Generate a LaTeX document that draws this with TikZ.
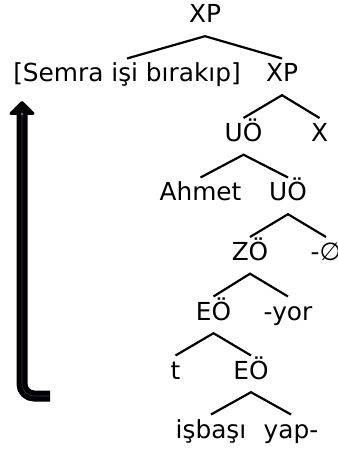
\documentclass[tikz,border=0pt]{standalone}
\usepackage{fontspec}
\setmainfont{DejaVu Sans}
\definecolor{innerline}{RGB}{40,55,85}
\definecolor{tipdot}{RGB}{70,120,200}
\begin{document}
\begin{tikzpicture}[x=1bp,y=-1bp]
\tikzset{
  lbl/.style={anchor=base, inner xsep=0pt, inner ysep=13bp, text height=10.3bp, text depth=0pt,
    font=\fontsize{24.8bp}{28bp}\selectfont},
  arm/.style={line width=2.2bp},
  movearrow/.style={line width=11bp, rounded corners=12bp},
}
\useasboundingbox (0,0) rectangle (337,449);
% labels
\node[lbl] (xp)    at (205,23)    {XP};
\node[lbl] (semra) at (127,82)    {[Semra işi bırakıp]};
\node[lbl] (xp2)   at (282,82)    {XP};
\node[lbl] (uo)    at (243.5,141.5) {UÖ};
\node[lbl] (x)     at (319.5,141.5) {X};
\node[lbl] (ahmet) at (200.5,201) {Ahmet};
\node[lbl] (uo2)   at (288,201)   {UÖ};
\node[lbl] (zo)    at (250,260.5) {ZÖ};
\node[lbl] (nul)   at (326,260.5) {-∅};
\node[lbl] (eo)    at (213.5,320) {EÖ};
\node[lbl] (yor)   at (288,320)   {-yor};
\node[lbl] (t)     at (175.5,379) {t};
\node[lbl] (eo2)   at (251,379)   {EÖ};
\node[lbl] (isb)   at (211,438)   {işbaşı};
\node[lbl] (yap)   at (291,438)   {yap-};
% arms
\draw[arm] (semra.north) -- (xp.south) -- (xp2.north);
\draw[arm] (uo.north) -- (xp2.south) -- (x.north);
\draw[arm] (ahmet.north) -- (uo.south) -- (uo2.north);
\draw[arm] (zo.north) -- (uo2.south) -- (nul.north);
\draw[arm] (eo.north) -- (zo.south) -- (yor.north);
\draw[arm] (t.north) -- (eo.south) -- (eo2.north);
\draw[arm] (isb.north) -- (eo2.south) -- (yap.north);
% movement arrow
\coordinate (mvS) at (50,396);
\coordinate (mvE) at (22,112);
\draw[movearrow] (mvS) -- (mvE |- mvS) -- (mvE);
\filldraw[line width=3bp, line join=round] (22,102.5) -- (33,113.5) -- (11,113.5) -- cycle;
\draw[innerline, line width=0.6bp, rounded corners=12bp] (mvS) -- (mvE |- mvS) -- ([yshift=-2bp]mvE);
\fill[tipdot] ([yshift=-2bp]mvE) circle (1.3bp);
\end{tikzpicture}
\end{document}
